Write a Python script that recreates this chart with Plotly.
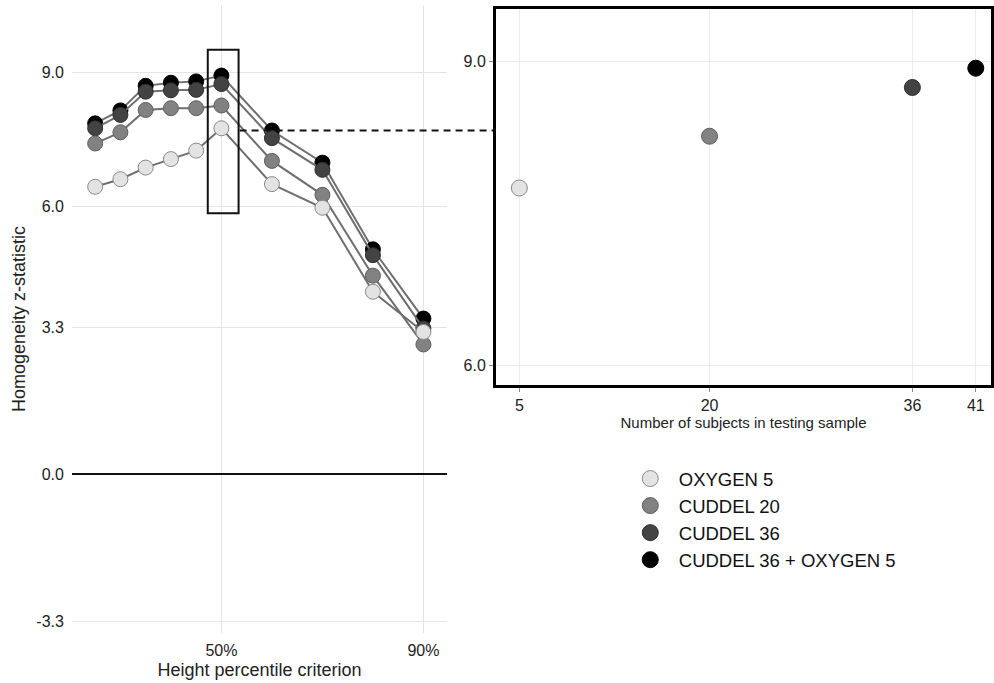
import plotly.graph_objects as go

# ---- data ----
percentiles = [25, 30, 35, 40, 45, 50, 60, 70, 80, 90]
series_names = ["OXYGEN 5", "CUDDEL 20", "CUDDEL 36", "CUDDEL 36 + OXYGEN 5"]
oxygen5 = [6.44, 6.61, 6.87, 7.06, 7.25, 7.75, 6.50, 5.97, 4.09, 3.19]
cuddel20 = [7.41, 7.66, 8.16, 8.20, 8.20, 8.26, 7.02, 6.26, 4.45, 2.91]
cuddel36 = [7.75, 8.05, 8.57, 8.60, 8.61, 8.74, 7.53, 6.82, 4.91, 3.27]
combined = [7.86, 8.15, 8.70, 8.77, 8.80, 8.93, 7.70, 6.98, 5.04, 3.49]
subjects = [5, 20, 36, 41]
z_at_50 = [7.75, 8.26, 8.74, 8.93]

left_yticks = [-3.3, 0.0, 3.3, 6.0, 9.0]
left_yticktext = ["-3.3", "0.0", "3.3", "6.0", "9.0"]
left_xticks = [50, 90]
left_xticktext = ["50%", "90%"]
right_yticks = [6.0, 9.0]
right_yticktext = ["6.0", "9.0"]

fills = ["#e3e3e3", "#828282", "#434343", "#000000"]
edges = ["#8a8a8a", "#5e5e5e", "#2e2e2e", "#000000"]
all_series = [oxygen5, cuddel20, cuddel36, combined]

FONT = "Liberation Sans, Arial, Helvetica, sans-serif"
TXT = "#222222"

fig = go.Figure()

# left panel: draw black first so lighter series sit on top
for i in [3, 2, 1, 0]:
    fig.add_trace(go.Scatter(
        x=percentiles, y=all_series[i], mode="lines+markers",
        line=dict(color="#6f6f6f", width=2),
        marker=dict(size=15, color=fills[i], line=dict(color=edges[i], width=1)),
        showlegend=False, hoverinfo="skip", xaxis="x", yaxis="y"))

# right panel
for i in range(4):
    fig.add_trace(go.Scatter(
        x=[subjects[i]], y=[z_at_50[i]], mode="markers",
        marker=dict(size=16, color=fills[i], line=dict(color=edges[i], width=1)),
        name=series_names[i], legendrank=i + 1, showlegend=True,
        hoverinfo="skip", xaxis="x2", yaxis="y2"))

ML, MB = 40, 50
W, H = 994, 683
PW, PH = W - ML, H - MB

def px_x(p):
    return (p - ML) / PW

def px_y(p):
    return (PH - p) / PH

fig.update_layout(
    width=W, height=H,
    margin=dict(l=ML, r=0, t=0, b=MB),
    paper_bgcolor="white", plot_bgcolor="white",
    font=dict(family=FONT, color=TXT, size=16),
    xaxis=dict(domain=[px_x(72), px_x(448)], range=[20.4, 94.7],
               tickvals=left_xticks, ticktext=left_xticktext,
               showgrid=True, gridcolor="#e4e4e4", gridwidth=1,
               zeroline=False, showline=False, ticks="",
               ticklabelstandoff=6, tickfont=dict(size=16),
               title=dict(text="Height percentile criterion", font=dict(size=18), standoff=5)),
    yaxis=dict(domain=[px_y(633), px_y(5)], range=[-3.55, 10.51],
               tickvals=left_yticks, ticktext=left_yticktext,
               showgrid=True, gridcolor="#e4e4e4", gridwidth=1,
               zeroline=True, zerolinecolor="#111111", zerolinewidth=2,
               showline=False, ticks="", ticklabelstandoff=7,
               tickfont=dict(size=16),
               title=dict(text="Homogeneity z-statistic", font=dict(size=18), standoff=6)),
    xaxis2=dict(domain=[px_x(497), px_x(993)], range=[3.16, 42.2], anchor="y2",
                tickvals=subjects, showgrid=True, gridcolor="#ececec",
                zeroline=False, showline=True, linecolor="black", linewidth=3, mirror=True,
                ticks="outside", ticklen=4, tickcolor="#888888", tickwidth=1,
                tickfont=dict(size=16),
                title=dict(text="Number of subjects in testing sample", font=dict(size=15), standoff=3)),
    yaxis2=dict(domain=[px_y(385), px_y(9.3)], range=[5.81, 9.51], anchor="x2",
                tickvals=right_yticks, ticktext=right_yticktext,
                showgrid=True, gridcolor="#ececec", zeroline=False,
                showline=True, linecolor="black", linewidth=3, mirror=True,
                ticks="outside", ticklen=4, tickcolor="#888888", tickwidth=1,
                tickfont=dict(size=16)),
    legend=dict(x=px_x(623), y=px_y(460), xanchor="left", yanchor="top",
                font=dict(size=18.5, color="#111111"), itemwidth=47,
                bgcolor="rgba(0,0,0,0)", borderwidth=0),
    shapes=[
        dict(type="rect", xref="x", yref="y", x0=47.3, x1=53.4, y0=5.85, y1=9.51,
             line=dict(color="#111111", width=2), fillcolor="rgba(0,0,0,0)", layer="above"),
        dict(type="line", xref="paper", yref="y", x0=px_x(240), x1=px_x(497), y0=7.7, y1=7.7,
             line=dict(color="#111111", width=2, dash="7px,5px"), layer="above"),
    ],
)

fig.write_html("out.html", config={"displayModeBar": False},
               post_script="document.body.style.margin='0';document.body.style.padding='0';")
